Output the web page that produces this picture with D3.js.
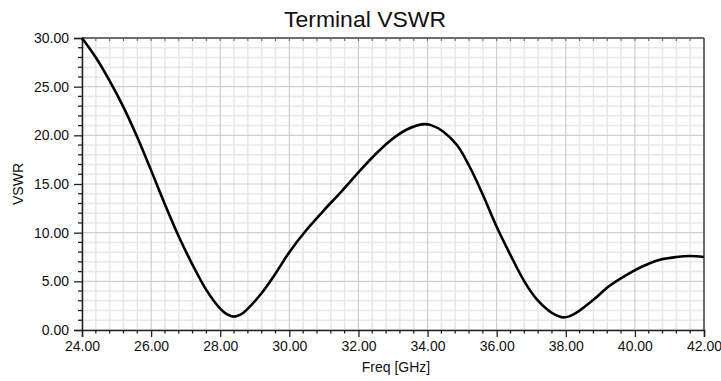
<!DOCTYPE html>
<html><head><meta charset="utf-8">
<script src="https://cdn.jsdelivr.net/npm/d3@7"></script>
<style>body{margin:0;background:#fff}svg{display:block;font-family:Arial,"Liberation Sans",sans-serif}</style>
</head><body>
<svg id="c" width="721" height="381"></svg>
<script>
const freq = [24.0,24.4,24.8,25.2,25.6,26.0,26.4,26.8,27.2,27.6,28.0,28.2,28.4,28.6,28.8,29.2,29.6,30.0,30.5,31.0,31.5,32.0,32.45,32.9,33.4,33.9,34.1,34.45,34.85,35.2,35.6,36.0,36.4,36.8,37.15,37.5,37.7,37.9,38.1,38.3,38.8,39.25,39.75,40.2,40.7,41.2,41.6,42.0];
const vswr = [30.0,28.0,25.6,22.9,19.8,16.4,12.9,9.6,6.7,4.1,2.2,1.6,1.37,1.6,2.2,3.8,5.8,8.0,10.3,12.3,14.2,16.2,17.9,19.4,20.6,21.15,21.05,20.4,19.0,16.9,13.9,10.6,7.7,5.0,3.2,2.0,1.55,1.3,1.4,1.75,3.1,4.5,5.65,6.5,7.2,7.5,7.6,7.5];
const xTicks = [24,26,28,30,32,34,36,38,40,42];
const yTicks = [0,5,10,15,20,25,30];
const title = "Terminal VSWR", xLabel = "Freq [GHz]", yLabel = "VSWR";

const svg = d3.select("#c");
const m = {l:82, r:17, t:38, b:51};
const W = 721, H = 381;
const x = d3.scaleLinear().domain([24,42]).range([m.l, W-m.r]);
const y = d3.scaleLinear().domain([0,30]).range([H-m.b, m.t]);

const g = svg.append("g");
// minor grid
const xMinor = d3.range(24, 42.001, 0.4).filter(v => Math.abs(v/2 - Math.round(v/2)) > 1e-6);
const yMinor = d3.range(0, 30.001, 1).filter(v => v % 5 !== 0);
g.selectAll(".vx").data(xMinor).join("line").attr("x1", d=>x(d)).attr("x2", d=>x(d))
  .attr("y1", y(0)).attr("y2", y(30)).attr("stroke", "#e8e8e8").attr("stroke-width", 1.5);
g.selectAll(".hy").data(yMinor).join("line").attr("y1", d=>y(d)).attr("y2", d=>y(d))
  .attr("x1", x(24)).attr("x2", x(42)).attr("stroke", "#e8e8e8").attr("stroke-width", 1.5);
// major grid
g.selectAll(".vX").data(xTicks).join("line").attr("x1", d=>x(d)).attr("x2", d=>x(d))
  .attr("y1", y(0)).attr("y2", y(30)).attr("stroke", "#cfcfcf").attr("stroke-width", 1.2);
g.selectAll(".hY").data(yTicks).join("line").attr("y1", d=>y(d)).attr("y2", d=>y(d))
  .attr("x1", x(24)).attr("x2", x(42)).attr("stroke", "#cfcfcf").attr("stroke-width", 1.2);

// frame top/right
svg.append("line").attr("x1", x(24)).attr("x2", x(42)).attr("y1", y(30)).attr("y2", y(30)).attr("stroke", "#444").attr("stroke-width", 1.5);
svg.append("line").attr("x1", x(42)).attr("x2", x(42)).attr("y1", y(30)).attr("y2", y(0)).attr("stroke", "#444").attr("stroke-width", 1.5);
// top inner ticks
svg.selectAll(".tt").data(xMinor.concat(xTicks)).join("line").attr("x1", d=>x(d)).attr("x2", d=>x(d))
  .attr("y1", y(30)).attr("y2", y(30)+3).attr("stroke", "#666");

// axes
const xAxis = d3.axisBottom(x).tickValues(xTicks).tickFormat(d3.format(".2f")).tickSize(7).tickPadding(4);
const yAxis = d3.axisLeft(y).tickValues(yTicks).tickFormat(d3.format(".2f")).tickSize(8).tickPadding(5);
const xa = svg.append("g").attr("transform", `translate(0,${y(0)})`).call(xAxis);
const ya = svg.append("g").attr("transform", `translate(${x(24)},0)`).call(yAxis);
[xa, ya].forEach(a => {
  a.select(".domain").attr("stroke", "#222").attr("stroke-width", 1.5);
  a.selectAll(".tick line").attr("stroke", "#222").attr("stroke-width", 1.3);
  a.selectAll("text").attr("font-size", 14).attr("fill", "#111").attr("font-family", "Arial, 'Liberation Sans', sans-serif");
});
// minor ticks
svg.append("g").selectAll("line").data(xMinor).join("line").attr("x1", d=>x(d)).attr("x2", d=>x(d))
  .attr("y1", y(0)).attr("y2", y(0)+3.5).attr("stroke", "#222").attr("stroke-width", 1.3);
svg.append("g").selectAll("line").data(yMinor).join("line").attr("y1", d=>y(d)).attr("y2", d=>y(d))
  .attr("x1", x(24)-4).attr("x2", x(24)).attr("stroke", "#222").attr("stroke-width", 1.3);

// curve
const pts = freq.map((f,i)=>[f, vswr[i]]);
svg.append("path").datum(pts)
  .attr("d", d3.line().x(d=>x(d[0])).y(d=>y(d[1])).curve(d3.curveCatmullRom.alpha(0.5)))
  .attr("fill", "none").attr("stroke", "#000").attr("stroke-width", 2.6).attr("stroke-linejoin", "round");

// titles
svg.append("text").attr("x", 365).attr("y", 27).attr("text-anchor", "middle")
  .attr("font-size", 21.5).attr("fill", "#111").attr("textLength", 162).attr("lengthAdjust", "spacingAndGlyphs").text(title);
svg.append("text").attr("x", 396).attr("y", 372).attr("text-anchor", "middle")
  .attr("font-size", 14).attr("fill", "#111").text(xLabel);
svg.append("text").attr("transform", `translate(23,${(y(0)+y(30))/2}) rotate(-90)`).attr("text-anchor", "middle")
  .attr("font-size", 14).attr("fill", "#111").text(yLabel);
</script>
</body></html>
